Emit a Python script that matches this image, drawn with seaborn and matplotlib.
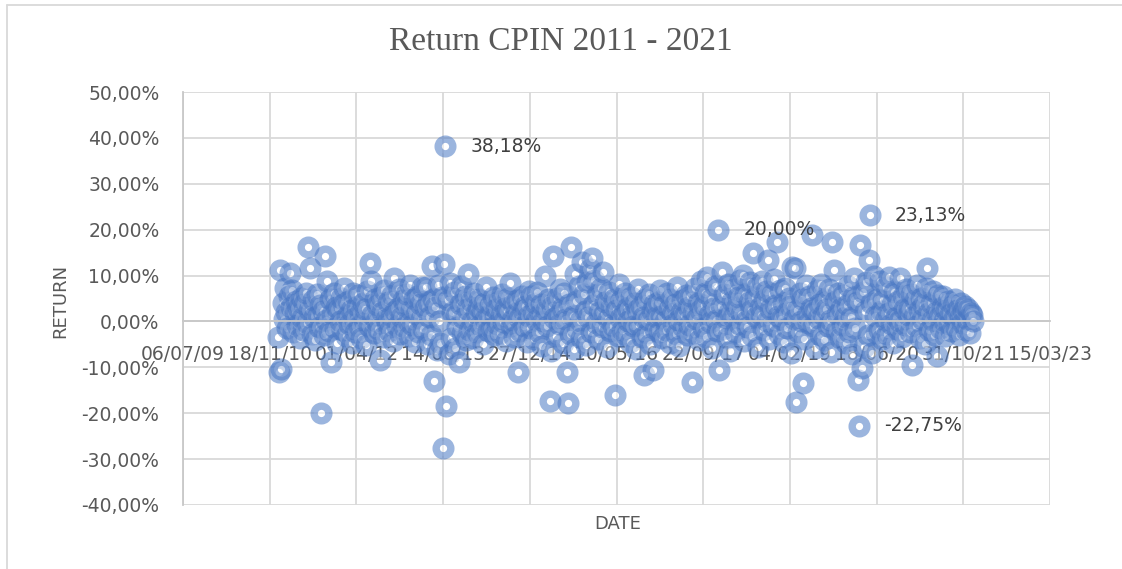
import numpy as np
import pandas as pd
import matplotlib
matplotlib.use("Agg")
import matplotlib.pyplot as plt
import matplotlib.dates as mdates
from matplotlib.lines import Line2D
from matplotlib.ticker import FuncFormatter
import seaborn as sns

# ---------------- data (weekly returns, %) ----------------
start_date = "2011-01-03"
r2011 = [-3.3, -11.0, 11.2, -10.3, 4.0, 0.5, 7.2, 2.1, -1.5, 5.6, 10.5, 3.2, 6.8, -2.4, 1.8, 4.5, -0.8, 2.9, -3.6, 5.1, 0.7, -1.9, 3.8, 6.2, -0.4, 16.3,
         2.4, 11.7, -2.8, 4.6, 0.9, -4.1, 5.9, 1.3, -1.2, 3.5, -19.9, 2.2, -3.0, 14.3, 0.4, 8.8, -2.1, 4.9, -8.8, 1.6, 6.1, -1.4, 3.1, -4.6, 2.7, 0.2]
r2012 = [5.2, -1.8, 3.9, 7.3, -3.2, 1.1, 4.4, -0.6, 2.6, -4.8, 6.3, 0.8, -2.3, 3.3, 5.7, -1.1, 1.9, -3.7, 4.1, 0.3, 2.8, -5.1, 6.6, -0.9, 12.7, 8.8,
         1.5, -2.6, 4.8, 0.1, 3.6, -1.7, -8.4, 5.4, 2.0, -3.4, 6.9, 0.6, -0.3, 4.2, -2.0, 1.2, 5.8, -4.3, 9.5, 2.3, -1.0, 3.0, 7.1, -2.7, 0.9, 4.7]
r2013 = [-1.3, 3.4, 6.0, 0.2, -3.1, 8.0, 2.5, -0.7, 4.9, -4.4, 1.7, 5.5, -2.2, 3.7, 0.5, 7.4, -1.6, 2.9, 7.6, -5.0, 4.3, 1.0, -2.9, 12.1, 5.0, -12.9,
         3.1, -6.2, 7.9, 0.2, -4.7, 5.3, -27.5, 12.5, 38.18, -18.4, 4.6, -7.1, 8.4, -3.5, 2.0, 6.4, -5.8, 1.4, -1.2, -8.8, 3.9, 7.7, -2.5, 0.7, 5.6, -4.0]
r2014 = [2.8, 10.3, -1.9, 4.5, 0.0, -3.6, 6.2, 1.8, -2.4, 3.2, 5.0, -0.8, 2.1, -4.9, 4.0, 0.6, 7.6, -2.0, 1.5, 3.6, -1.4, 5.3, -3.0, 0.9, 2.7, -0.5,
         4.4, -2.6, 1.3, 6.0, -0.2, 3.0, -4.2, 2.2, 5.1, 8.4, -1.0, 0.4, 3.8, -3.3, 1.9, 4.7, -11.0, 0.8, -2.1, 5.6, 2.4, -0.9, 3.4, -4.5, 1.1, 6.7]
r2015 = [-1.5, 5.5, 2.0, -3.8, 4.1, 0.3, 6.4, -2.4, 1.6, 3.9, -5.4, 0.1, 9.8, 2.6, -1.1, 4.8, -17.3, -6.5, 3.3, 14.3, 0.7, -3.1, 5.2, 1.4, -0.6, 7.0,
         2.9, -4.6, 6.1, 0.5, -11.0, -17.7, 3.7, -2.8, 16.3, 1.2, -6.0, 10.3, 4.5, -1.7, 7.8, 0.0, -3.5, 13.0, 5.9, 2.3, -5.2, 8.6, 1.0, 11.5, -2.2, 13.9]
r2016 = [3.6, 9.0, -0.4, 5.7, -3.9, 2.1, 7.3, -1.3, 10.8, 1.7, 4.2, -5.5, 0.6, 6.5, -2.0, 3.1, -0.9, 5.0, -16.0, 2.4, -3.2, 8.1, 0.8, 4.6, -1.8, 1.9,
         6.2, -2.9, 3.0, 0.2, -4.4, 5.4, 1.5, -1.1, 4.0, -6.1, 2.6, 7.0, -0.7, 3.3, -3.4, 1.0, -11.6, 4.8, -2.5, 0.4, 6.0, -5.0, 2.2, -10.6, 3.7, -1.6]
r2017 = [0.9, 4.3, -2.3, 6.8, 1.2, -3.7, 3.5, 0.0, -1.9, 6.2, 2.7, -4.8, 5.0, 1.6, -0.5, 3.9, -2.8, 7.4, 0.3, -5.3, 2.0, 4.6, -1.3, 1.1, 5.8, -3.0,
         3.2, -0.8, 5.5, -13.1, 1.8, -2.6, 7.3, 0.6, 4.1, -4.0, 2.5, 8.9, -1.5, 3.6, 6.3, -3.3, 9.7, 1.3, -0.2, 4.8, -5.7, 2.9, 7.8, 0.4, -2.1, 20.0]
r2018 = [-10.5, 3.4, 10.8, -1.7, 5.9, 0.7, -3.5, 8.2, 2.0, -6.4, 4.5, 1.0, 7.1, -2.4, 3.0, 5.3, -0.6, 9.0, 1.7, 10.2, -4.3, 6.0, 0.2, -1.2, 4.2, 8.5,
         2.5, -3.1, 15.0, 5.4, 0.9, 7.5, -5.6, 3.1, 1.4, 8.8, -1.8, 4.7, 6.6, 0.0, 13.4, -3.8, 2.8, 5.9, -0.9, 9.3, 3.5, 17.4, 1.1, -2.7, 6.8, 0.5]
r2019 = [4.0, -4.5, 7.2, 1.9, -1.4, 5.1, 3.3, -6.8, 11.9, 0.6, 11.7, -17.6, 2.4, -2.2, 6.3, 0.1, 4.9, -13.4, -3.9, 7.9, 1.5, -0.3, 5.5, 3.0, 18.9, -1.0,
         2.1, -5.8, 6.9, 0.8, 3.8, -2.9, 8.1, 1.3, -4.1, 5.0, 2.7, -1.1, 7.0, 0.3, -6.6, 17.4, 11.2, 4.4, -2.0, 1.6, 6.2, -3.6, 2.9, -0.7, 5.7, 0.9]
r2020 = [-4.8, 3.6, 7.7, -2.3, 1.0, -7.2, 5.4, 9.4, -1.5, 4.2, -12.7, -22.75, 16.7, -10.2, 6.5, -5.5, 2.3, 8.7, -3.0, 13.4, 23.13, 4.0, -6.9, 9.8, 1.2, -2.6,
         5.0, -1.9, 8.9, 2.2, -3.9, 4.7, 0.4, 7.4, -2.7, 1.8, 9.7, -0.5, 3.9, -4.6, 6.4, 1.0, -1.6, 4.4, 0.0, 9.5, -3.4, 5.6, 2.7, -0.8, 7.1, 1.5]
r2021 = [3.0, -2.4, 6.0, -9.5, 1.2, 4.6, -1.0, 8.0, 2.4, -3.7, 5.2, 0.6, 3.5, -5.0, 7.3, 11.7, 1.8, -1.8, 4.1, 0.3, 6.6, -2.9, 2.0, -7.6, 5.8, 0.9,
         -1.4, 3.2, 5.5, 0.2, -3.2, 2.6, 4.4, -0.6, 1.7, -2.1, 3.6, 0.8, 5.0, -1.5, 2.4, -3.0, 1.0, 4.0, -0.4, 2.2, 3.3, -1.9, 0.5, 2.8, -2.6, 1.9, 1.4, 0.1]

labelled_values = [38.18, 20.00, 23.13, -22.75]
y_ticks = [-40, -30, -20, -10, 0, 10, 20, 30, 40, 50]
x_axis_start = "2009-07-06"
x_axis_end = "2023-03-15"
x_major_days = 500

title_text = "Return CPIN 2011 - 2021"
x_title = "DATE"
y_title = "RETURN"

returns = r2011 + r2012 + r2013 + r2014 + r2015 + r2016 + r2017 + r2018 + r2019 + r2020 + r2021
dates = pd.date_range(start_date, periods=len(returns), freq="7D")
df = pd.DataFrame({"DATE": dates, "RETURN": returns})

# ---------------- style ----------------
sns.set_style("white")
plt.rcParams["font.family"] = ["DejaVu Sans"]

W, H = 1122, 569
fig = plt.figure(figsize=(W / 100, H / 100), dpi=100)
L, R, T, B = 183, 1050, 92, 505
ax = fig.add_axes([L / W, 1 - B / H, (R - L) / W, (B - T) / H])

sns.scatterplot(data=df, x="DATE", y="RETURN", ax=ax, marker="o", s=112, legend=False)
coll = ax.collections[0]
coll.set_facecolor((1, 1, 1, 0.45))
coll.set_edgecolor((0.29, 0.47, 0.77, 0.55))
coll.set_linewidth(5.3)

# labels on points
for v in labelled_values:
    idx = int(np.argmin(np.abs(df["RETURN"].values - v)))
    ax.annotate(f"{v:.2f}%".replace(".", ","), (mdates.date2num(df["DATE"].iloc[idx]), df["RETURN"].iloc[idx]),
                xytext=(18, 0), textcoords="offset points", va="center", ha="left",
                fontsize=13.5, color="#404040")

# axes limits / ticks
x0 = pd.Timestamp(x_axis_start)
x1 = pd.Timestamp(x_axis_end)
ax.set_xlim(mdates.date2num(x0), mdates.date2num(x1))
ax.set_ylim(y_ticks[0], y_ticks[-1])
xt = [mdates.date2num(x0 + pd.Timedelta(days=x_major_days * k)) for k in range(11)]
ax.set_xticks(xt)
ax.xaxis.set_major_formatter(mdates.DateFormatter("%d/%m/%y"))
ax.set_yticks(y_ticks)
ax.yaxis.set_major_formatter(FuncFormatter(lambda v, p: f"{v:.2f}%".replace(".", ",")))

ax.grid(True, color="#D9D9D9", linewidth=1.3)
ax.set_axisbelow(True)
for s in ["top", "right"]:
    ax.spines[s].set_visible(False)
ax.spines["left"].set_color("#C8C8C8")
ax.spines["left"].set_linewidth(1.3)
ax.spines["bottom"].set_position(("data", 0))
ax.spines["bottom"].set_color("#C8C8C8")
ax.spines["bottom"].set_linewidth(1.3)

ax.tick_params(axis="x", length=0, pad=17, labelsize=13.5, labelcolor="#595959")
ax.tick_params(axis="y", length=0, pad=17, labelsize=13.5, labelcolor="#595959")

ax.set_xlabel(x_title, fontsize=13, color="#595959", va="center")
ax.set_ylabel(y_title, fontsize=13, color="#595959", va="center")
ax.xaxis.set_label_coords((618 - L) / (R - L), (B - 524) / (B - T))
ax.yaxis.set_label_coords((60 - L) / (R - L), (B - 301) / (B - T))

fig.text(0.5, 1 - 42 / H, title_text, ha="center", va="center", fontsize=24,
         family=["Liberation Serif", "DejaVu Serif"], color="#595959")

# chart border (Excel chart area)
fig.add_artist(Line2D([7 / W, 7 / W], [0, 1 - 5 / H], transform=fig.transFigure, color="#D9D9D9", linewidth=1.3))
fig.add_artist(Line2D([7 / W, 1], [1 - 5 / H, 1 - 5 / H], transform=fig.transFigure, color="#D9D9D9", linewidth=1.3))

fig.savefig("out.png", dpi=100)
